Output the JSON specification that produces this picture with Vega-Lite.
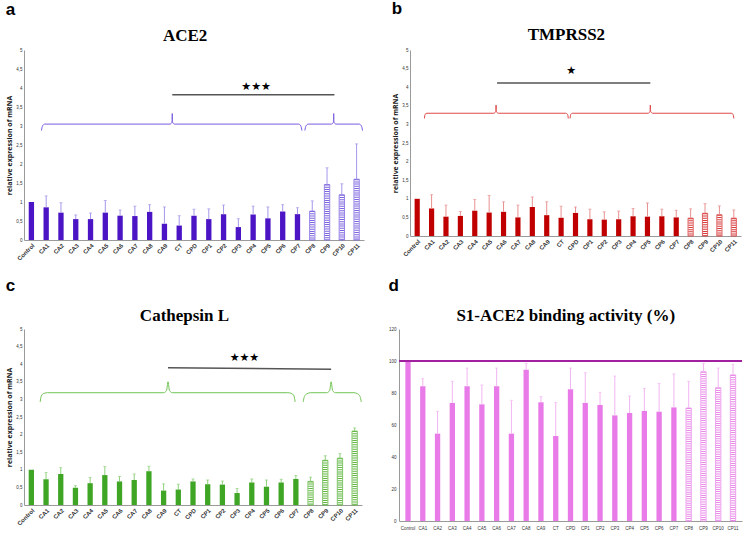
{
"$schema":"https://vega.github.io/schema/vega-lite/v6.json",
"background":"white",
"padding":{"left":5,"right":5,"top":0,"bottom":5},
"config":{"view":{"stroke":null},"axis":{"ticks":false,"grid":false,"domainColor":"#9a9a9a","labelColor":"#333","labelFont":"Liberation Sans","titleFont":"Open Sans","labelOverlap":false},"concat":{"spacing":20}},
"datasets":{
"ace2":[
{"s":"Control","v":1.0,"e":null,"h":0},{"s":"CA1","v":0.86,"e":1.16,"h":0},{"s":"CA2","v":0.72,"e":0.98,"h":0},{"s":"CA3","v":0.55,"e":0.66,"h":0},{"s":"CA4","v":0.55,"e":0.71,"h":0},{"s":"CA5","v":0.72,"e":1.04,"h":0},{"s":"CA6","v":0.64,"e":0.79,"h":0},{"s":"CA7","v":0.63,"e":0.89,"h":0},{"s":"CA8","v":0.74,"e":0.93,"h":0},{"s":"CA9","v":0.43,"e":0.87,"h":0},{"s":"CT","v":0.38,"e":0.64,"h":0},{"s":"CPD","v":0.64,"e":0.81,"h":0},{"s":"CP1","v":0.55,"e":0.82,"h":0},{"s":"CP2","v":0.68,"e":0.92,"h":0},{"s":"CP3","v":0.34,"e":0.56,"h":0},{"s":"CP4","v":0.67,"e":0.89,"h":0},{"s":"CP5","v":0.57,"e":0.87,"h":0},{"s":"CP6","v":0.75,"e":0.93,"h":0},{"s":"CP7","v":0.68,"e":0.85,"h":0},{"s":"CP8","v":0.76,"e":1.03,"h":1},{"s":"CP9","v":1.46,"e":1.9,"h":1},{"s":"CP10","v":1.19,"e":1.48,"h":1},{"s":"CP11","v":1.6,"e":2.53,"h":1}],
"tmprss2":[
{"s":"Control","v":1.0,"e":null,"h":0},{"s":"CA1","v":0.74,"e":1.11,"h":0},{"s":"CA2","v":0.52,"e":0.83,"h":0},{"s":"CA3","v":0.54,"e":0.66,"h":0},{"s":"CA4","v":0.68,"e":0.98,"h":0},{"s":"CA5","v":0.63,"e":1.09,"h":0},{"s":"CA6","v":0.65,"e":0.92,"h":0},{"s":"CA7","v":0.5,"e":0.83,"h":0},{"s":"CA8","v":0.78,"e":1.05,"h":0},{"s":"CA9","v":0.56,"e":0.92,"h":0},{"s":"CT","v":0.49,"e":0.8,"h":0},{"s":"CPD","v":0.62,"e":0.78,"h":0},{"s":"CP1","v":0.45,"e":0.72,"h":0},{"s":"CP2","v":0.44,"e":0.65,"h":0},{"s":"CP3","v":0.45,"e":0.67,"h":0},{"s":"CP4","v":0.53,"e":0.74,"h":0},{"s":"CP5","v":0.52,"e":0.89,"h":0},{"s":"CP6","v":0.53,"e":0.72,"h":0},{"s":"CP7","v":0.5,"e":0.69,"h":0},{"s":"CP8","v":0.48,"e":0.73,"h":1},{"s":"CP9","v":0.61,"e":0.87,"h":1},{"s":"CP10","v":0.57,"e":0.81,"h":1},{"s":"CP11","v":0.48,"e":0.7,"h":1}],
"ctsl":[
{"s":"Control","v":1.0,"e":null,"h":0},{"s":"CA1","v":0.73,"e":0.92,"h":0},{"s":"CA2","v":0.88,"e":1.06,"h":0},{"s":"CA3","v":0.49,"e":0.55,"h":0},{"s":"CA4","v":0.62,"e":0.78,"h":0},{"s":"CA5","v":0.85,"e":1.09,"h":0},{"s":"CA6","v":0.67,"e":0.81,"h":0},{"s":"CA7","v":0.71,"e":0.88,"h":0},{"s":"CA8","v":0.96,"e":1.1,"h":0},{"s":"CA9","v":0.41,"e":0.6,"h":0},{"s":"CT","v":0.44,"e":0.59,"h":0},{"s":"CPD","v":0.67,"e":0.74,"h":0},{"s":"CP1","v":0.59,"e":0.71,"h":0},{"s":"CP2","v":0.58,"e":0.68,"h":0},{"s":"CP3","v":0.34,"e":0.47,"h":0},{"s":"CP4","v":0.64,"e":0.74,"h":0},{"s":"CP5","v":0.52,"e":0.71,"h":0},{"s":"CP6","v":0.64,"e":0.73,"h":0},{"s":"CP7","v":0.74,"e":0.84,"h":0},{"s":"CP8","v":0.67,"e":0.79,"h":1},{"s":"CP9","v":1.27,"e":1.4,"h":1},{"s":"CP10","v":1.33,"e":1.46,"h":1},{"s":"CP11","v":2.1,"e":2.19,"h":1}],
"s1":[
{"s":"Control","v":100,"e":null,"h":0},{"s":"CA1","v":84.2,"e":89,"h":0},{"s":"CA2","v":54.6,"e":68.5,"h":0},{"s":"CA3","v":73.8,"e":87.3,"h":0},{"s":"CA4","v":84.2,"e":95.6,"h":0},{"s":"CA5","v":72.9,"e":85,"h":0},{"s":"CA6","v":84.2,"e":95.6,"h":0},{"s":"CA7","v":54.6,"e":75.4,"h":0},{"s":"CA8","v":94.6,"e":98.5,"h":0},{"s":"CA9","v":74.2,"e":77.7,"h":0},{"s":"CT","v":53.1,"e":74,"h":0},{"s":"CPD","v":82.3,"e":95.6,"h":0},{"s":"CP1","v":73.8,"e":92.7,"h":0},{"s":"CP2","v":72.5,"e":80.4,"h":0},{"s":"CP3","v":66,"e":90.6,"h":0},{"s":"CP4","v":67.5,"e":78.1,"h":0},{"s":"CP5","v":68.8,"e":82.9,"h":0},{"s":"CP6","v":68.3,"e":86,"h":0},{"s":"CP7","v":71,"e":92,"h":0},{"s":"CP8","v":70.6,"e":87.3,"h":1},{"s":"CP9","v":93.3,"e":98.5,"h":1},{"s":"CP10","v":83.3,"e":95.6,"h":1},{"s":"CP11","v":91.3,"e":97.9,"h":1}],
"ann":[
{"p":"a","k":"brace","g":"L","x":0.68,"y":2.88},{"p":"a","k":"brace","g":"L","x":0.75,"y":3.0},{"p":"a","k":"brace","g":"L","x":0.9,"y":3.05},{"p":"a","k":"brace","g":"L","x":9.38,"y":3.05},{"p":"a","k":"brace","g":"L","x":9.51,"y":3.1},{"p":"a","k":"brace","g":"L","x":9.53,"y":3.33},{"p":"a","k":"brace","g":"L","x":9.55,"y":3.1},{"p":"a","k":"brace","g":"L","x":9.68,"y":3.05},{"p":"a","k":"brace","g":"L","x":18.08,"y":3.05},{"p":"a","k":"brace","g":"L","x":18.23,"y":3.0},{"p":"a","k":"brace","g":"L","x":18.3,"y":2.88},
{"p":"a","k":"brace","g":"R","x":18.5,"y":2.88},{"p":"a","k":"brace","g":"R","x":18.57,"y":3.0},{"p":"a","k":"brace","g":"R","x":18.72,"y":3.05},{"p":"a","k":"brace","g":"R","x":20.3,"y":3.05},{"p":"a","k":"brace","g":"R","x":20.43,"y":3.1},{"p":"a","k":"brace","g":"R","x":20.45,"y":3.33},{"p":"a","k":"brace","g":"R","x":20.47,"y":3.1},{"p":"a","k":"brace","g":"R","x":20.6,"y":3.05},{"p":"a","k":"brace","g":"R","x":22.18,"y":3.05},{"p":"a","k":"brace","g":"R","x":22.33,"y":3.0},{"p":"a","k":"brace","g":"R","x":22.4,"y":2.88},
{"p":"a","k":"sig","x":9.53,"x2":20.5,"y":3.82,"y2":3.82},{"p":"a","k":"star","x":15.2,"y":4.02,"t":"★★★"},
{"p":"b","k":"brace","g":"L","x":0.5,"y":3.16},{"p":"b","k":"brace","g":"L","x":0.55,"y":3.27},{"p":"b","k":"brace","g":"L","x":0.68,"y":3.3},{"p":"b","k":"brace","g":"L","x":5.33,"y":3.3},{"p":"b","k":"brace","g":"L","x":5.46,"y":3.35},{"p":"b","k":"brace","g":"L","x":5.48,"y":3.52},{"p":"b","k":"brace","g":"L","x":5.5,"y":3.35},{"p":"b","k":"brace","g":"L","x":5.63,"y":3.3},{"p":"b","k":"brace","g":"L","x":10.32,"y":3.3},{"p":"b","k":"brace","g":"L","x":10.45,"y":3.27},{"p":"b","k":"brace","g":"L","x":10.5,"y":3.16},
{"p":"b","k":"brace","g":"R","x":10.62,"y":3.16},{"p":"b","k":"brace","g":"R","x":10.67,"y":3.27},{"p":"b","k":"brace","g":"R","x":10.8,"y":3.3},{"p":"b","k":"brace","g":"R","x":16.05,"y":3.3},{"p":"b","k":"brace","g":"R","x":16.18,"y":3.35},{"p":"b","k":"brace","g":"R","x":16.2,"y":3.52},{"p":"b","k":"brace","g":"R","x":16.22,"y":3.35},{"p":"b","k":"brace","g":"R","x":16.35,"y":3.3},{"p":"b","k":"brace","g":"R","x":21.82,"y":3.3},{"p":"b","k":"brace","g":"R","x":21.95,"y":3.27},{"p":"b","k":"brace","g":"R","x":22.0,"y":3.16},
{"p":"b","k":"sig","x":5.55,"x2":16.2,"y":4.11,"y2":4.11},{"p":"b","k":"star","x":10.7,"y":4.43,"t":"★"},
{"p":"c","k":"brace","g":"L","x":0.6,"y":2.93},{"p":"c","k":"brace","g":"L","x":0.68,"y":3.1},{"p":"c","k":"brace","g":"L","x":0.85,"y":3.17},{"p":"c","k":"brace","g":"L","x":1.1,"y":3.19},{"p":"c","k":"brace","g":"L","x":9.0,"y":3.19},{"p":"c","k":"brace","g":"L","x":9.2,"y":3.25},{"p":"c","k":"brace","g":"L","x":9.3,"y":3.5},{"p":"c","k":"brace","g":"L","x":9.4,"y":3.25},{"p":"c","k":"brace","g":"L","x":9.6,"y":3.19},{"p":"c","k":"brace","g":"L","x":17.45,"y":3.19},{"p":"c","k":"brace","g":"L","x":17.7,"y":3.17},{"p":"c","k":"brace","g":"L","x":17.87,"y":3.1},{"p":"c","k":"brace","g":"L","x":17.95,"y":2.93},
{"p":"c","k":"brace","g":"R","x":18.5,"y":2.93},{"p":"c","k":"brace","g":"R","x":18.58,"y":3.08},{"p":"c","k":"brace","g":"R","x":18.75,"y":3.16},{"p":"c","k":"brace","g":"R","x":19.0,"y":3.19},{"p":"c","k":"brace","g":"R","x":20.1,"y":3.19},{"p":"c","k":"brace","g":"R","x":20.3,"y":3.25},{"p":"c","k":"brace","g":"R","x":20.4,"y":3.5},{"p":"c","k":"brace","g":"R","x":20.5,"y":3.25},{"p":"c","k":"brace","g":"R","x":20.7,"y":3.19},{"p":"c","k":"brace","g":"R","x":21.95,"y":3.19},{"p":"c","k":"brace","g":"R","x":22.2,"y":3.16},{"p":"c","k":"brace","g":"R","x":22.37,"y":3.08},{"p":"c","k":"brace","g":"R","x":22.45,"y":2.93},
{"p":"c","k":"sig","x":9.3,"x2":20.4,"y":3.9,"y2":3.86},{"p":"c","k":"star","x":14.5,"y":4.17,"t":"★★★"}
]
},
"vconcat":[
{"hconcat":[
{"title":{"text":"a","anchor":"start","fontSize":17,"font":"Liberation Sans","fontWeight":"bold","offset":8},
 "vconcat":[{
  "width":340,"height":190,
  "title":{"text":"ACE2","font":"Liberation Serif","fontSize":17,"fontWeight":"bold","offset":2,"frame":"bounds"},
  "layer":[
   {"data":{"name":"ace2"},
    "encoding":{"x":{"field":"s","type":"nominal","title":null,"scale":{"domain":["Control","CA1","CA2","CA3","CA4","CA5","CA6","CA7","CA8","CA9","CT","CPD","CP1","CP2","CP3","CP4","CP5","CP6","CP7","CP8","CP9","CP10","CP11"],"paddingInner":0.64,"paddingOuter":0.32},"axis":{"labelAngle":-45,"labelFontSize":6,"labelFontWeight":"bold","labelPadding":2}}},
    "layer":[
     {"transform":[{"filter":"datum.h==0"}],"mark":{"type":"bar","fill":"#4B14C4"},"encoding":{"y":{"field":"v","type":"quantitative","scale":{"domain":[0,5]},"axis":{"values":[0,0.5,1,1.5,2,2.5,3,3.5,4,4.5,5],"format":"~g","labelExpr":"replace(datum.label,'.',',')","labelFontSize":4.5,"labelPadding":2,"title":"relative expression of mRNA","titleFontSize":7,"titleFontWeight":"bold","titlePadding":3,"titleColor":"#222"}}}},
     {"transform":[{"filter":"datum.h==1"}],"mark":{"type":"bar","fill":"#ffffff","stroke":"#7d64e0","strokeWidth":0.8},"encoding":{"y":{"field":"v","type":"quantitative","axis":{"values":[0,0.5,1,1.5,2,2.5,3,3.5,4,4.5,5],"format":"~g","labelExpr":"replace(datum.label,'.',',')","labelFontSize":4.5,"labelPadding":2,"title":"relative expression of mRNA","titleFontSize":7,"titleFontWeight":"bold","titlePadding":3,"titleColor":"#222"}}}},
     {"transform":[{"filter":"datum.h==1"}],"mark":{"type":"rule","stroke":"#7d64e0","strokeWidth":4.5,"strokeDash":[1,1.2]},"encoding":{"y":{"field":"v","type":"quantitative","axis":{"values":[0,0.5,1,1.5,2,2.5,3,3.5,4,4.5,5],"format":"~g","labelExpr":"replace(datum.label,'.',',')","labelFontSize":4.5,"labelPadding":2,"title":"relative expression of mRNA","titleFontSize":7,"titleFontWeight":"bold","titlePadding":3,"titleColor":"#222"}},"y2":{"datum":0}}},
     {"transform":[{"filter":"datum.e != null"}],"mark":{"type":"rule","stroke":"#a597ea","strokeWidth":1},"encoding":{"y":{"field":"v","type":"quantitative","axis":{"values":[0,0.5,1,1.5,2,2.5,3,3.5,4,4.5,5],"format":"~g","labelExpr":"replace(datum.label,'.',',')","labelFontSize":4.5,"labelPadding":2,"title":"relative expression of mRNA","titleFontSize":7,"titleFontWeight":"bold","titlePadding":3,"titleColor":"#222"}},"y2":{"field":"e"}}},
     {"transform":[{"filter":"datum.e != null"}],"mark":{"type":"tick","color":"#a597ea","size":3,"thickness":1},"encoding":{"y":{"field":"e","type":"quantitative","axis":{"values":[0,0.5,1,1.5,2,2.5,3,3.5,4,4.5,5],"format":"~g","labelExpr":"replace(datum.label,'.',',')","labelFontSize":4.5,"labelPadding":2,"title":"relative expression of mRNA","titleFontSize":7,"titleFontWeight":"bold","titlePadding":3,"titleColor":"#222"}}}}
    ]},
   {"data":{"name":"ann"},"transform":[{"filter":"datum.p=='a'"}],
    "layer":[
     {"transform":[{"filter":"datum.k=='brace'"}],"mark":{"type":"line","stroke":"#7b5ce0","strokeWidth":1,"interpolate":"monotone"},"encoding":{"x":{"field":"x","type":"quantitative","scale":{"domain":[-0.5,22.5],"nice":false,"zero":false},"axis":null},"y":{"field":"y","type":"quantitative","axis":{"values":[0,0.5,1,1.5,2,2.5,3,3.5,4,4.5,5],"format":"~g","labelExpr":"replace(datum.label,'.',',')","labelFontSize":4.5,"labelPadding":2,"title":"relative expression of mRNA","titleFontSize":7,"titleFontWeight":"bold","titlePadding":3,"titleColor":"#222"}},"detail":{"field":"g"}}},
     {"transform":[{"filter":"datum.k=='sig'"}],"mark":{"type":"rule","stroke":"#555555","strokeWidth":1.5},"encoding":{"x":{"field":"x","type":"quantitative"},"x2":{"field":"x2"},"y":{"field":"y","type":"quantitative","axis":{"values":[0,0.5,1,1.5,2,2.5,3,3.5,4,4.5,5],"format":"~g","labelExpr":"replace(datum.label,'.',',')","labelFontSize":4.5,"labelPadding":2,"title":"relative expression of mRNA","titleFontSize":7,"titleFontWeight":"bold","titlePadding":3,"titleColor":"#222"}},"y2":{"field":"y2"}}},
     {"transform":[{"filter":"datum.k=='star'"}],"mark":{"type":"text","font":"DejaVu Sans","fontSize":11,"color":"#000000","baseline":"middle"},"encoding":{"x":{"field":"x","type":"quantitative"},"y":{"field":"y","type":"quantitative","axis":{"values":[0,0.5,1,1.5,2,2.5,3,3.5,4,4.5,5],"format":"~g","labelExpr":"replace(datum.label,'.',',')","labelFontSize":4.5,"labelPadding":2,"title":"relative expression of mRNA","titleFontSize":7,"titleFontWeight":"bold","titlePadding":3,"titleColor":"#222"}},"text":{"field":"t"}}}
    ]}
  ],
  "resolve":{"scale":{"x":"independent"},"axis":{"x":"independent"}}
 }]},
{"title":{"text":"b","anchor":"start","fontSize":17,"font":"Liberation Sans","fontWeight":"bold","offset":8},
 "vconcat":[{
  "width":331,"height":186,
  "title":{"text":"TMPRSS2","font":"Liberation Serif","fontSize":17,"fontWeight":"bold","offset":3,"frame":"bounds"},
  "layer":[
   {"data":{"name":"tmprss2"},
    "encoding":{"x":{"field":"s","type":"nominal","title":null,"scale":{"domain":["Control","CA1","CA2","CA3","CA4","CA5","CA6","CA7","CA8","CA9","CT","CPD","CP1","CP2","CP3","CP4","CP5","CP6","CP7","CP8","CP9","CP10","CP11"],"paddingInner":0.64,"paddingOuter":0.32},"axis":{"labelAngle":-45,"labelFontSize":6,"labelFontWeight":"bold","labelPadding":2}}},
    "layer":[
     {"transform":[{"filter":"datum.h==0"}],"mark":{"type":"bar","fill":"#C00000"},"encoding":{"y":{"field":"v","type":"quantitative","scale":{"domain":[0,5]},"axis":{"values":[0,0.5,1,1.5,2,2.5,3,3.5,4,4.5,5],"format":"~g","labelExpr":"replace(datum.label,'.',',')","labelFontSize":4.5,"labelPadding":2,"title":"relative expression of mRNA","titleFontSize":7,"titleFontWeight":"bold","titlePadding":3,"titleColor":"#222"}}}},
     {"transform":[{"filter":"datum.h==1"}],"mark":{"type":"bar","fill":"#ffffff","stroke":"#d83a3a","strokeWidth":0.8},"encoding":{"y":{"field":"v","type":"quantitative","axis":{"values":[0,0.5,1,1.5,2,2.5,3,3.5,4,4.5,5],"format":"~g","labelExpr":"replace(datum.label,'.',',')","labelFontSize":4.5,"labelPadding":2,"title":"relative expression of mRNA","titleFontSize":7,"titleFontWeight":"bold","titlePadding":3,"titleColor":"#222"}}}},
     {"transform":[{"filter":"datum.h==1"}],"mark":{"type":"rule","stroke":"#d83a3a","strokeWidth":4.4,"strokeDash":[1,1.2]},"encoding":{"y":{"field":"v","type":"quantitative","axis":{"values":[0,0.5,1,1.5,2,2.5,3,3.5,4,4.5,5],"format":"~g","labelExpr":"replace(datum.label,'.',',')","labelFontSize":4.5,"labelPadding":2,"title":"relative expression of mRNA","titleFontSize":7,"titleFontWeight":"bold","titlePadding":3,"titleColor":"#222"}},"y2":{"datum":0}}},
     {"transform":[{"filter":"datum.e != null"}],"mark":{"type":"rule","stroke":"#e99090","strokeWidth":1},"encoding":{"y":{"field":"v","type":"quantitative","axis":{"values":[0,0.5,1,1.5,2,2.5,3,3.5,4,4.5,5],"format":"~g","labelExpr":"replace(datum.label,'.',',')","labelFontSize":4.5,"labelPadding":2,"title":"relative expression of mRNA","titleFontSize":7,"titleFontWeight":"bold","titlePadding":3,"titleColor":"#222"}},"y2":{"field":"e"}}},
     {"transform":[{"filter":"datum.e != null"}],"mark":{"type":"tick","color":"#e99090","size":3,"thickness":1},"encoding":{"y":{"field":"e","type":"quantitative","axis":{"values":[0,0.5,1,1.5,2,2.5,3,3.5,4,4.5,5],"format":"~g","labelExpr":"replace(datum.label,'.',',')","labelFontSize":4.5,"labelPadding":2,"title":"relative expression of mRNA","titleFontSize":7,"titleFontWeight":"bold","titlePadding":3,"titleColor":"#222"}}}}
    ]},
   {"data":{"name":"ann"},"transform":[{"filter":"datum.p=='b'"}],
    "layer":[
     {"transform":[{"filter":"datum.k=='brace'"}],"mark":{"type":"line","stroke":"#e04848","strokeWidth":1,"interpolate":"monotone"},"encoding":{"x":{"field":"x","type":"quantitative","scale":{"domain":[-0.5,22.5],"nice":false,"zero":false},"axis":null},"y":{"field":"y","type":"quantitative","axis":{"values":[0,0.5,1,1.5,2,2.5,3,3.5,4,4.5,5],"format":"~g","labelExpr":"replace(datum.label,'.',',')","labelFontSize":4.5,"labelPadding":2,"title":"relative expression of mRNA","titleFontSize":7,"titleFontWeight":"bold","titlePadding":3,"titleColor":"#222"}},"detail":{"field":"g"}}},
     {"transform":[{"filter":"datum.k=='sig'"}],"mark":{"type":"rule","stroke":"#555555","strokeWidth":1.5},"encoding":{"x":{"field":"x","type":"quantitative"},"x2":{"field":"x2"},"y":{"field":"y","type":"quantitative","axis":{"values":[0,0.5,1,1.5,2,2.5,3,3.5,4,4.5,5],"format":"~g","labelExpr":"replace(datum.label,'.',',')","labelFontSize":4.5,"labelPadding":2,"title":"relative expression of mRNA","titleFontSize":7,"titleFontWeight":"bold","titlePadding":3,"titleColor":"#222"}},"y2":{"field":"y2"}}},
     {"transform":[{"filter":"datum.k=='star'"}],"mark":{"type":"text","font":"DejaVu Sans","fontSize":11,"color":"#000000","baseline":"middle"},"encoding":{"x":{"field":"x","type":"quantitative"},"y":{"field":"y","type":"quantitative","axis":{"values":[0,0.5,1,1.5,2,2.5,3,3.5,4,4.5,5],"format":"~g","labelExpr":"replace(datum.label,'.',',')","labelFontSize":4.5,"labelPadding":2,"title":"relative expression of mRNA","titleFontSize":7,"titleFontWeight":"bold","titlePadding":3,"titleColor":"#222"}},"text":{"field":"t"}}}
    ]}
  ],
  "resolve":{"scale":{"x":"independent"},"axis":{"x":"independent"}}
 }]}
],"spacing":26},
{"hconcat":[
{"title":{"text":"c","anchor":"start","fontSize":17,"font":"Liberation Sans","fontWeight":"bold","offset":12},
 "vconcat":[{
  "width":338,"height":176,
  "title":{"text":"Cathepsin L","font":"Liberation Serif","fontSize":17,"fontWeight":"bold","offset":1,"frame":"bounds"},
  "layer":[
   {"data":{"name":"ctsl"},
    "encoding":{"x":{"field":"s","type":"nominal","title":null,"scale":{"domain":["Control","CA1","CA2","CA3","CA4","CA5","CA6","CA7","CA8","CA9","CT","CPD","CP1","CP2","CP3","CP4","CP5","CP6","CP7","CP8","CP9","CP10","CP11"],"paddingInner":0.64,"paddingOuter":0.32},"axis":{"labelAngle":-45,"labelFontSize":6,"labelFontWeight":"bold","labelPadding":2}}},
    "layer":[
     {"transform":[{"filter":"datum.h==0"}],"mark":{"type":"bar","fill":"#3FA524"},"encoding":{"y":{"field":"v","type":"quantitative","scale":{"domain":[0,5]},"axis":{"values":[0,0.5,1,1.5,2,2.5,3,3.5,4,4.5,5],"format":"~g","labelExpr":"replace(datum.label,'.',',')","labelFontSize":4.5,"labelPadding":2,"title":"relative expression of mRNA","titleFontSize":7,"titleFontWeight":"bold","titlePadding":3,"titleColor":"#222"}}}},
     {"transform":[{"filter":"datum.h==1"}],"mark":{"type":"bar","fill":"#ffffff","stroke":"#62b843","strokeWidth":0.8},"encoding":{"y":{"field":"v","type":"quantitative","axis":{"values":[0,0.5,1,1.5,2,2.5,3,3.5,4,4.5,5],"format":"~g","labelExpr":"replace(datum.label,'.',',')","labelFontSize":4.5,"labelPadding":2,"title":"relative expression of mRNA","titleFontSize":7,"titleFontWeight":"bold","titlePadding":3,"titleColor":"#222"}}}},
     {"transform":[{"filter":"datum.h==1"}],"mark":{"type":"rule","stroke":"#62b843","strokeWidth":4.5,"strokeDash":[1,1.2]},"encoding":{"y":{"field":"v","type":"quantitative","axis":{"values":[0,0.5,1,1.5,2,2.5,3,3.5,4,4.5,5],"format":"~g","labelExpr":"replace(datum.label,'.',',')","labelFontSize":4.5,"labelPadding":2,"title":"relative expression of mRNA","titleFontSize":7,"titleFontWeight":"bold","titlePadding":3,"titleColor":"#222"}},"y2":{"datum":0}}},
     {"transform":[{"filter":"datum.e != null"}],"mark":{"type":"rule","stroke":"#8fd07c","strokeWidth":1},"encoding":{"y":{"field":"v","type":"quantitative","axis":{"values":[0,0.5,1,1.5,2,2.5,3,3.5,4,4.5,5],"format":"~g","labelExpr":"replace(datum.label,'.',',')","labelFontSize":4.5,"labelPadding":2,"title":"relative expression of mRNA","titleFontSize":7,"titleFontWeight":"bold","titlePadding":3,"titleColor":"#222"}},"y2":{"field":"e"}}},
     {"transform":[{"filter":"datum.e != null"}],"mark":{"type":"tick","color":"#8fd07c","size":3,"thickness":1},"encoding":{"y":{"field":"e","type":"quantitative","axis":{"values":[0,0.5,1,1.5,2,2.5,3,3.5,4,4.5,5],"format":"~g","labelExpr":"replace(datum.label,'.',',')","labelFontSize":4.5,"labelPadding":2,"title":"relative expression of mRNA","titleFontSize":7,"titleFontWeight":"bold","titlePadding":3,"titleColor":"#222"}}}}
    ]},
   {"data":{"name":"ann"},"transform":[{"filter":"datum.p=='c'"}],
    "layer":[
     {"transform":[{"filter":"datum.k=='brace'"}],"mark":{"type":"line","stroke":"#72c455","strokeWidth":1,"interpolate":"monotone"},"encoding":{"x":{"field":"x","type":"quantitative","scale":{"domain":[-0.5,22.5],"nice":false,"zero":false},"axis":null},"y":{"field":"y","type":"quantitative","axis":{"values":[0,0.5,1,1.5,2,2.5,3,3.5,4,4.5,5],"format":"~g","labelExpr":"replace(datum.label,'.',',')","labelFontSize":4.5,"labelPadding":2,"title":"relative expression of mRNA","titleFontSize":7,"titleFontWeight":"bold","titlePadding":3,"titleColor":"#222"}},"detail":{"field":"g"}}},
     {"transform":[{"filter":"datum.k=='sig'"}],"mark":{"type":"rule","stroke":"#555555","strokeWidth":1.5},"encoding":{"x":{"field":"x","type":"quantitative"},"x2":{"field":"x2"},"y":{"field":"y","type":"quantitative","axis":{"values":[0,0.5,1,1.5,2,2.5,3,3.5,4,4.5,5],"format":"~g","labelExpr":"replace(datum.label,'.',',')","labelFontSize":4.5,"labelPadding":2,"title":"relative expression of mRNA","titleFontSize":7,"titleFontWeight":"bold","titlePadding":3,"titleColor":"#222"}},"y2":{"field":"y2"}}},
     {"transform":[{"filter":"datum.k=='star'"}],"mark":{"type":"text","font":"DejaVu Sans","fontSize":11,"color":"#000000","baseline":"middle"},"encoding":{"x":{"field":"x","type":"quantitative"},"y":{"field":"y","type":"quantitative","axis":{"values":[0,0.5,1,1.5,2,2.5,3,3.5,4,4.5,5],"format":"~g","labelExpr":"replace(datum.label,'.',',')","labelFontSize":4.5,"labelPadding":2,"title":"relative expression of mRNA","titleFontSize":7,"titleFontWeight":"bold","titlePadding":3,"titleColor":"#222"}},"text":{"field":"t"}}}
    ]}
  ],
  "resolve":{"scale":{"x":"independent"},"axis":{"x":"independent"}}
 }]},
{"title":{"text":"d","anchor":"start","fontSize":17,"font":"Liberation Sans","fontWeight":"bold","offset":12},
 "vconcat":[{
  "width":343,"height":192,
  "title":{"text":"S1-ACE2 binding activity (%)","font":"Liberation Serif","fontSize":17,"fontWeight":"bold","offset":1,"frame":"bounds"},
  "data":{"name":"s1"},
  "layer":[
   {"encoding":{"x":{"field":"s","type":"nominal","title":null,"scale":{"domain":["Control","CA1","CA2","CA3","CA4","CA5","CA6","CA7","CA8","CA9","CT","CPD","CP1","CP2","CP3","CP4","CP5","CP6","CP7","CP8","CP9","CP10","CP11"],"paddingInner":0.64,"paddingOuter":0.43},"axis":{"labelAngle":0,"labelFontSize":4.5,"labelPadding":4}}},
    "layer":[
     {"transform":[{"filter":"datum.h==0"}],"mark":{"type":"bar","fill":"#E97BE9"},"encoding":{"y":{"field":"v","type":"quantitative","scale":{"domain":[0,120]},"axis":{"values":[0,20,40,60,80,100,120],"labelFontSize":4.5,"labelPadding":3,"title":null}}}},
     {"transform":[{"filter":"datum.h==1"}],"mark":{"type":"bar","fill":"#ffffff","stroke":"#e98ae9","strokeWidth":0.8},"encoding":{"y":{"field":"v","type":"quantitative","axis":{"values":[0,20,40,60,80,100,120],"labelFontSize":4.5,"labelPadding":3,"title":null}}}},
     {"transform":[{"filter":"datum.h==1"}],"mark":{"type":"rule","stroke":"#e98ae9","strokeWidth":4.5,"strokeDash":[1,1.2]},"encoding":{"y":{"field":"v","type":"quantitative","axis":{"values":[0,20,40,60,80,100,120],"labelFontSize":4.5,"labelPadding":3,"title":null}},"y2":{"datum":0}}},
     {"transform":[{"filter":"datum.e != null"}],"mark":{"type":"rule","stroke":"#f2b6f2","strokeWidth":1},"encoding":{"y":{"field":"v","type":"quantitative","axis":{"values":[0,20,40,60,80,100,120],"labelFontSize":4.5,"labelPadding":3,"title":null}},"y2":{"field":"e"}}},
     {"transform":[{"filter":"datum.e != null"}],"mark":{"type":"tick","color":"#f2b6f2","size":3,"thickness":1},"encoding":{"y":{"field":"e","type":"quantitative","axis":{"values":[0,20,40,60,80,100,120],"labelFontSize":4.5,"labelPadding":3,"title":null}}}}
    ]},
   {"mark":{"type":"rule","stroke":"#A0209F","strokeWidth":2},"encoding":{"y":{"datum":100,"type":"quantitative","axis":{"values":[0,20,40,60,80,100,120],"labelFontSize":4.5,"labelPadding":3,"title":null}}}}
  ]
 }]}
],"spacing":24}
],
"spacing":15
}
